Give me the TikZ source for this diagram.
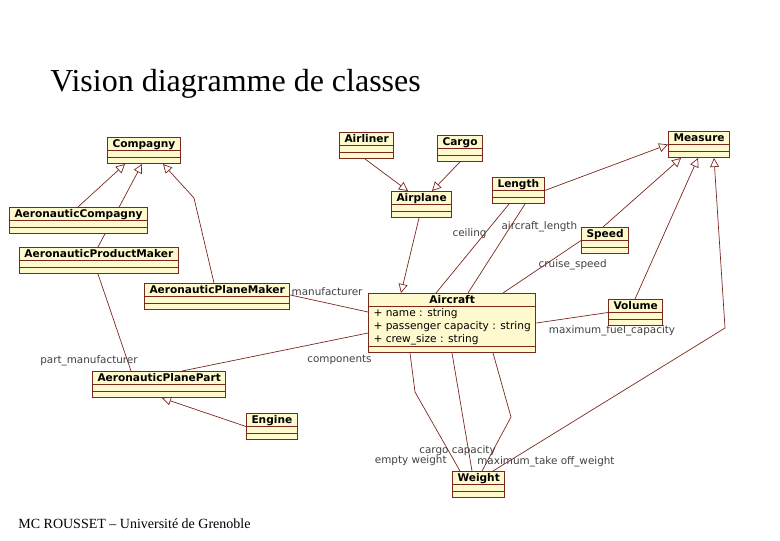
\documentclass[tikz,border=0pt]{standalone}
\usepackage{fontspec}
\setmainfont{Liberation Serif}
\newfontfamily\umlfont{DejaVu Sans}
\usepackage{tikz}
\usetikzlibrary{arrows.meta,calc,backgrounds}

\definecolor{clsfill}{RGB}{255,250,205}
\definecolor{clsline}{RGB}{122,40,30}

\begin{document}
\begin{tikzpicture}[
    x=0.5pt, y=-0.5pt,
    umlclass/.style={rectangle, draw=clsline, line width=0.5pt, fill=clsfill, anchor=north west,
        inner xsep=2.5pt, inner ysep=0pt, text height=4.85pt, text depth=8.15pt,
        font=\umlfont\bfseries\fontsize{5.3}{6.5}\selectfont,
        path picture={\draw[clsline, line width=0.5pt]
            ($(path picture bounding box.north west)+(0,13)$) -- ($(path picture bounding box.north east)+(0,13)$)
            ($(path picture bounding box.south west)+(0,-6.5)$) -- ($(path picture bounding box.south east)+(0,-6.5)$);}},
    gen/.style={draw=clsline, line width=0.35pt, -{Triangle[open, length=4.5pt, width=4.5pt]}},
    assoc/.style={draw=clsline, line width=0.35pt},
    role/.style={font=\umlfont\fontsize{5.2}{6}\selectfont, text=black!75, inner sep=0.5pt}
]
\useasboundingbox (0,0) rectangle (780,540);

\node[anchor=base west, inner sep=0pt, font=\fontsize{16}{19}\selectfont] (title) at (50,91) {Vision diagramme de classes};
\node[anchor=base west, inner sep=0pt, font=\fontsize{7}{8}\selectfont] (footer) at (18,528) {MC ROUSSET – Université de Grenoble};

% companies
\node[umlclass, minimum width=35pt] (comp) at (107,137) {Compagny};
\node[umlclass, minimum width=67pt] (aco) at (9,207) {AeronauticCompagny};
\node[umlclass, minimum width=78pt] (apm) at (19,247) {AeronauticProductMaker};
\node[umlclass, minimum width=71.5pt] (aplm) at (144,283) {AeronauticPlaneMaker};
\node[umlclass, minimum width=64.5pt] (app) at (92,371) {AeronauticPlanePart};
\node[umlclass, minimum width=24pt] (eng) at (246,413) {Engine};

% planes
\node[umlclass, minimum width=26pt] (airl) at (339,132) {Airliner};
\node[umlclass, minimum width=22pt] (cargo) at (437,135) {Cargo};
\node[umlclass, minimum width=28.5pt] (apl) at (391,191) {Airplane};
\node[umlclass, minimum width=82.5pt, text depth=24.65pt] (acft) at (368,293) {%
    \begin{tabular}[t]{@{}l@{}}\multicolumn{1}{@{}c@{}}{Aircraft}\\ \mdseries + name : string\\ \mdseries + passenger capacity : string\\ \mdseries + crew\_size : string\end{tabular}};

% measures
\node[umlclass, minimum width=30pt] (meas) at (668,131) {Measure};
\node[umlclass, minimum width=25pt] (len) at (492,177) {Length};
\node[umlclass, minimum width=23pt] (spd) at (581,227) {Speed};
\node[umlclass, minimum width=27pt] (vol) at (608,299) {Volume};
\node[umlclass, minimum width=25.5pt] (wgt) at (452,471) {Weight};

% bends
\coordinate (kneeMaker) at (194,198);
\coordinate (kneeWeight) at (725,328);
\coordinate (kneeEmpty) at (415,392);
\coordinate (kneeTakeoff) at (511,417);

\begin{scope}[on background layer]
% generalisations
\draw[gen] ($(aco.north west)+(69,0)$) -- ($(comp.south west)+(18,0)$);
\draw[gen] ($(apm.north west)+(79,0)$) -- ($(comp.south west)+(35,0)$);
\draw[gen] ($(aplm.north west)+(70,0)$) -- (kneeMaker) -- ($(comp.south west)+(56,0)$);
\draw[gen] (eng.west) -- ($(app.south west)+(70,0)$);
\draw[gen] ($(airl.south west)+(26,0)$) -- ($(apl.north west)+(17,0)$);
\draw[gen] ($(cargo.south west)+(23,0)$) -- ($(apl.north west)+(41,0)$);
\draw[gen] ($(apl.south west)+(28,0)$) -- ($(acft.north west)+(33,0)$);
\draw[gen] (len.east) -- (meas.west);
\draw[gen] ($(spd.north west)+(22,0)$) -- ($(meas.south west)+(13,0)$);
\draw[gen] ($(vol.north west)+(27,0)$) -- ($(meas.south west)+(30,0)$);
\draw[gen] ($(wgt.north west)+(41,0)$) -- (kneeWeight) -- ($(meas.south west)+(46,0)$);

% associations
\draw[assoc] ($(aplm.north east)+(0,12)$) -- node[role, pos=0, anchor=south west, yshift=-1pt] {manufacturer} ($(acft.north west)+(0,19)$);
\draw[assoc] ($(apm.south west)+(79,0)$) -- node[role, pos=1, anchor=south east, xshift=4pt, yshift=2pt] {part\_manufacturer} ($(app.north west)+(39,0)$);
\draw[assoc] ($(app.north west)+(90,0)$) -- node[role, pos=1, anchor=north east, xshift=2.5pt, yshift=-10.5pt] {components} ($(acft.north west)+(0,40)$);
\draw[assoc] ($(len.south west)+(17,0)$) -- node[role, pos=.33, anchor=east, xshift=1.5pt] {ceiling} ($(acft.north west)+(68,0)$);
\draw[assoc] ($(len.south west)+(33,0)$) -- node[role, pos=.26, anchor=west, xshift=-5pt] {aircraft\_length} ($(acft.north west)+(100,0)$);
\draw[assoc] (spd.west) -- node[role, pos=.47, anchor=west, xshift=-3.5pt] {cruise\_speed} ($(acft.north west)+(135,0)$);
\draw[assoc] (vol.west) -- node[role, pos=0, anchor=north, xshift=2pt, yshift=-6pt] {maximum\_fuel\_capacity} (acft.east);
\draw[assoc] ($(acft.south west)+(42,0)$) -- (kneeEmpty) -- node[role, pos=1, anchor=south east, xshift=-6pt, yshift=2pt] {empty weight} ($(wgt.north west)+(8,0)$);
\draw[assoc] ($(acft.south west)+(84,0)$) -- node[role, pos=1, anchor=south, xshift=-7.25pt, yshift=7pt] {cargo capacity} ($(wgt.north west)+(20,0)$);
\draw[assoc] ($(acft.south west)+(125,0)$) -- (kneeTakeoff) -- node[role, pos=1, anchor=south west, xshift=-3pt, yshift=1.5pt] {maximum\_take off\_weight} ($(wgt.north west)+(30,0)$);
\end{scope}
\end{tikzpicture}
\end{document}
